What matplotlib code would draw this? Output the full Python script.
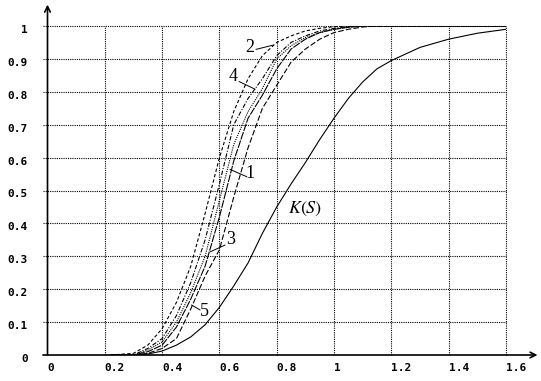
import numpy as np
import matplotlib
matplotlib.use("Agg")
import matplotlib.pyplot as plt

# ---- data ----
s = [0.22, 0.3, 0.35, 0.4, 0.45, 0.5, 0.55, 0.6, 0.65, 0.7, 0.75, 0.8, 0.85,
     0.9, 0.95, 1.0, 1.05, 1.1, 1.15, 1.6]
curve_2 = [0, 0.005, 0.03, 0.08, 0.16, 0.27, 0.43, 0.60, 0.74, 0.84, 0.91, 0.95,
           0.97, 0.985, 0.993, 0.998, 1, 1, 1, 1]
curve_4 = [0, 0.0, 0.02, 0.05, 0.12, 0.22, 0.35, 0.52, 0.70, 0.78, 0.84, 0.91,
           0.95, 0.97, 0.985, 0.993, 0.998, 1, 1, 1]
curve_1 = [0, 0.0, 0.015, 0.04, 0.10, 0.19, 0.30, 0.47, 0.64, 0.74, 0.81, 0.90,
           0.94, 0.965, 0.98, 0.99, 0.997, 1, 1, 1]
curve_3 = [0, 0.0, 0.01, 0.03, 0.085, 0.17, 0.27, 0.42, 0.59, 0.72, 0.79, 0.87,
           0.93, 0.96, 0.98, 0.99, 0.996, 1, 1, 1]
curve_5 = [0, 0.0, 0.005, 0.02, 0.05, 0.14, 0.24, 0.32, 0.48, 0.63, 0.75, 0.82,
           0.89, 0.93, 0.96, 0.98, 0.99, 0.997, 1, 1]

s_k = [0.3, 0.35, 0.4, 0.45, 0.5, 0.55, 0.6, 0.65, 0.7, 0.75, 0.8, 0.85, 0.9,
       0.95, 1.0, 1.05, 1.1, 1.15, 1.2, 1.3, 1.4, 1.5, 1.6]
k_s = [0, 0.003, 0.012, 0.03, 0.055, 0.092, 0.145, 0.21, 0.28, 0.37, 0.45, 0.52,
       0.585, 0.655, 0.72, 0.78, 0.83, 0.87, 0.895, 0.935, 0.96, 0.978, 0.99]

xticks = [0, 0.2, 0.4, 0.6, 0.8, 1.0, 1.2, 1.4, 1.6]
xtick_labels = ["0", "0.2", "0.4", "0.6", "0.8", "1", "1.2", "1.4", "1.6"]
yticks = [0, 0.1, 0.2, 0.3, 0.4, 0.5, 0.6, 0.7, 0.8, 0.9, 1.0]
ytick_labels = ["0", "0.1", "0.2", "0.3", "0.4", "0.5", "0.6", "0.7", "0.8", "0.9", "1"]

# label text, text position, leader start, leader end (on curve)
labels = [
    ("2", (0.707, 0.936), (0.728, 0.929), (0.788, 0.942)),
    ("4", (0.647, 0.845), (0.669, 0.831), (0.724, 0.808)),
    ("1", (0.707, 0.553), (0.695, 0.542), (0.637, 0.564)),
    ("3", (0.638, 0.350), (0.619, 0.334), (0.569, 0.314)),
    ("5", (0.548, 0.133), (0.532, 0.137), (0.503, 0.152)),
]

# ---- plot ----
fig = plt.figure(figsize=(5.41, 3.81), dpi=100)
ax = fig.add_axes([47.5 / 541, 26 / 381, 458.5 / 541, 329 / 381])
ax.set_xlim(0, 1.6)
ax.set_ylim(0, 1)
ax.axis("off")

# grid
for y in yticks[1:]:
    ax.plot([-0.016, 1.6], [y, y], color="black", lw=0.8,
            ls=(0, (1, 1)), clip_on=False)
for x in xticks[1:]:
    ax.plot([x, x], [0, 1], color="black", lw=0.8, ls=(0, (1, 1)), clip_on=False)

# axes with arrows
ax.annotate("", xy=(1.71, 0), xytext=(-0.016, 0), annotation_clip=False,
            arrowprops=dict(arrowstyle="->", lw=1.2, color="black",
                            shrinkA=0, shrinkB=0))
ax.annotate("", xy=(0, 1.065), xytext=(0, 0), annotation_clip=False,
            arrowprops=dict(arrowstyle="->", lw=1.2, color="black",
                            shrinkA=0, shrinkB=0))

# tick labels
tick_font = dict(family="DejaVu Sans Mono", weight="bold", size=8)
for x, t in zip(xticks, xtick_labels):
    ax.text(x, -0.04, t, ha="left", va="center", **tick_font)
for y, t in zip(yticks, ytick_labels):
    ax.text(-0.068, y - 0.012, t, ha="right", va="center", **tick_font)

# curves
ax.plot(s, curve_2, color="black", lw=0.8, ls=(0, (3, 2)))
ax.plot(s, curve_4, color="black", lw=0.8, ls=(0, (4, 1.5, 1, 1.5)))
ax.plot(s, curve_1, color="black", lw=0.8, ls=(0, (1, 1)))
ax.plot(s, curve_3, color="black", lw=0.8, ls=(0, (7, 1)))
ax.plot(s, curve_5, color="black", lw=0.8, ls=(0, (5, 2)))
ax.plot(s_k, k_s, color="black", lw=0.8)

# curve labels with leaders
for txt, pos, p0, p1 in labels:
    ax.plot([p0[0], p1[0]], [p0[1], p1[1]], color="black", lw=0.7)
    ax.text(pos[0], pos[1], txt, ha="center", va="center",
            family="Liberation Serif", size=13)
ax.text(0.898, 0.445, r"$K(S)$", ha="center", va="center", size=13,
        math_fontfamily="stix")

fig.savefig("out.png", dpi=100)
